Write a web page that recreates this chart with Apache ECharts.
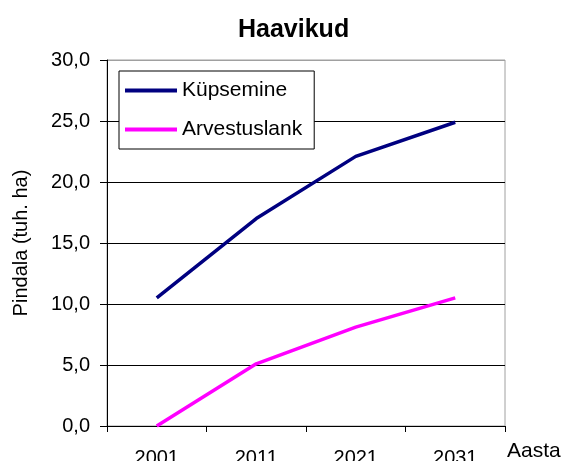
<!DOCTYPE html>
<html>
<head>
<meta charset="utf-8">
<script src="https://cdn.jsdelivr.net/npm/echarts@6/dist/echarts.min.js"></script>
<style>
  html, body { margin: 0; padding: 0; background: #fff; }
  #chart { width: 564px; height: 461px; }
</style>
</head>
<body>
<div id="chart"></div>
<script>
// andmed
var aastad = ['2001', '2011', '2021', '2031'];
var kypsemine = [10.5, 17.0, 22.1, 24.9];
var arvestuslank = [0.0, 5.1, 8.1, 10.5];

var font = 'Liberation Sans, Arial, sans-serif';

var chart = echarts.init(document.getElementById('chart'), null, { renderer: 'canvas' });

function koma(v) {
  return v.toFixed(1).replace('.', ',');
}

var option = {
  backgroundColor: '#fff',
  animation: false,
  title: {
    text: 'Haavikud',
    left: 233, top: 13,
    textStyle: { fontFamily: font, fontSize: 25, fontWeight: 'bold', color: '#000' }
  },
  grid: {
    left: 107, right: 59, top: 60, bottom: 35,
    outerBoundsMode: 'none',
    containLabel: false,
    show: true, borderColor: '#a0a0a0', borderWidth: 1, backgroundColor: '#fff'
  },
  legend: {
    orient: 'vertical',
    left: 119, top: 71,
    data: ['Küpsemine', 'Arvestuslank'],
    backgroundColor: '#fff',
    borderColor: '#000', borderWidth: 1,
    padding: [9, 12, 9, 6],
    icon: 'rect',
    itemWidth: 52, itemHeight: 4,
    itemGap: 18,
    textStyle: { fontFamily: font, fontSize: 21, lineHeight: 20, color: '#000' }
  },
  xAxis: {
    type: 'category',
    data: aastad,
    boundaryGap: true,
    name: 'Aasta',
    nameLocation: 'end',
    nameGap: 2,
    nameTextStyle: { fontFamily: font, fontSize: 21, color: '#000', verticalAlign: 'top', padding: [15, 0, 0, 0] },
    axisLine: { lineStyle: { color: '#000', width: 1 } },
    axisTick: { show: true, length: 6, lineStyle: { color: '#000' } },
    axisLabel: { fontFamily: font, fontSize: 20, color: '#000', margin: 22 },
    splitLine: { show: false }
  },
  yAxis: {
    type: 'value',
    min: 0, max: 30, interval: 5,
    name: 'Pindala (tuh. ha)',
    nameLocation: 'middle',
    nameGap: 76,
    nameTextStyle: { fontFamily: font, fontSize: 20, color: '#000' },
    axisLine: { show: true, lineStyle: { color: '#000', width: 1 } },
    axisTick: { show: true, length: 7, lineStyle: { color: '#000' } },
    axisLabel: { fontFamily: font, fontSize: 20, color: '#000', margin: 17, formatter: koma },
    splitLine: { show: true, lineStyle: { color: ['#000', '#000', '#000', '#000', '#000', '#000', '#a0a0a0'], width: 1 } }
  },
  series: [
    {
      name: 'Küpsemine', type: 'line', data: kypsemine,
      showSymbol: false, symbol: 'none',
      lineStyle: { color: '#000080', width: 3.5 },
      itemStyle: { color: '#000080' }
    },
    {
      name: 'Arvestuslank', type: 'line', data: arvestuslank,
      showSymbol: false, symbol: 'none',
      lineStyle: { color: '#ff00ff', width: 3.5 },
      itemStyle: { color: '#ff00ff' }
    }
  ]
};

chart.setOption(option);
</script>
</body>
</html>
